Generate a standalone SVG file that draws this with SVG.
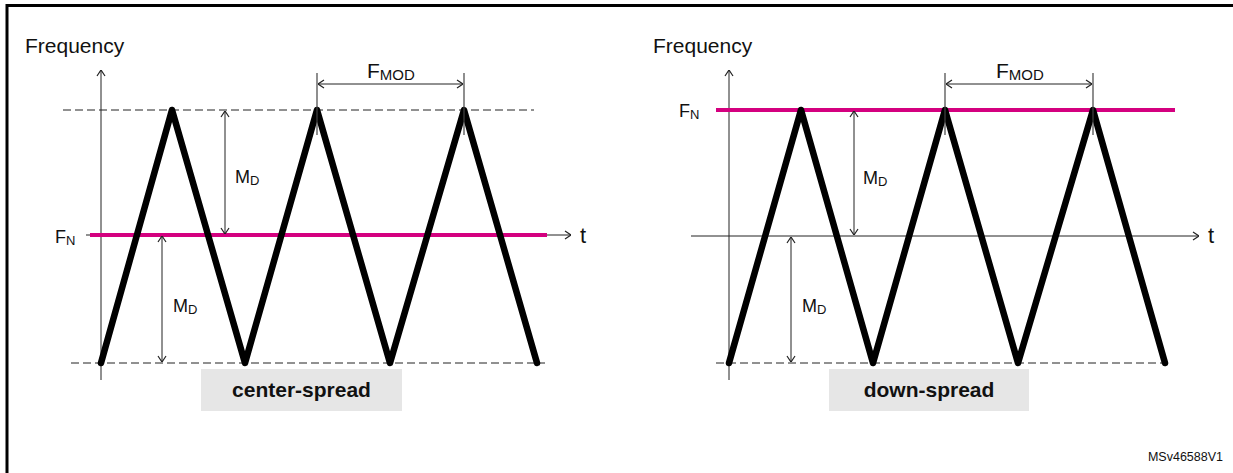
<svg xmlns="http://www.w3.org/2000/svg" width="1233" height="473" viewBox="0 0 1233 473">
<defs>
<style>
.lbl{font-family:"Liberation Sans",Arial,sans-serif;fill:#111}
.ax{stroke:#222;stroke-width:1;fill:none}
.dash{stroke:#222;stroke-width:1;stroke-dasharray:8 4;fill:none}
.tick{stroke:#444;stroke-width:1.2;fill:none}
.tri{stroke:#000;stroke-width:6.5;fill:none;stroke-linejoin:round;stroke-linecap:round}
.fn{stroke:#d4007f;stroke-width:4;fill:none}
.box{fill:#e6e6e6}
.bt{font-family:"Liberation Sans",Arial,sans-serif;font-weight:bold;font-size:21px;fill:#111;text-anchor:middle}
</style>
<marker id="ah" viewBox="0 0 10 10" refX="10" refY="5" markerWidth="10" markerHeight="10" markerUnits="userSpaceOnUse" orient="auto-start-reverse">
<path d="M4,1 L10,5 L4,9" fill="none" stroke="#222" stroke-width="1.2"/>
</marker>
</defs>
<rect width="1233" height="473" fill="#fff"/>
<g id="frame">
<path d="M7,473 V5.5 H1233" fill="none" stroke="#000" stroke-width="3"/>
</g>

<g id="center-spread">
<g id="left-axes">
<line class="ax" x1="101" y1="380" x2="101" y2="70" marker-end="url(#ah)"/>
<line class="ax" x1="86" y1="235" x2="571" y2="235" marker-end="url(#ah)"/>
<line class="dash" x1="63" y1="110" x2="534" y2="110"/>
<line class="dash" x1="71" y1="363" x2="545" y2="363"/>
</g>
<line id="left-fn" class="fn" x1="90" y1="235" x2="547" y2="235"/>
<polyline id="left-wave" class="tri" points="101,363 172,110 245,363 317,110 390,363 464,110 537,363"/>
<g id="left-dims">
<line class="tick" x1="317" y1="73" x2="317" y2="135"/>
<line class="tick" x1="464" y1="73" x2="464" y2="135"/>
<line class="ax" x1="318" y1="84" x2="463" y2="84" marker-start="url(#ah)" marker-end="url(#ah)"/>
<line class="ax" x1="225" y1="111" x2="225" y2="234" marker-start="url(#ah)" marker-end="url(#ah)"/>
<line class="ax" x1="162" y1="236" x2="162" y2="362" marker-start="url(#ah)" marker-end="url(#ah)"/>
</g>
<g id="left-labels">
<text class="lbl" x="25" y="53" font-size="21">Frequency</text>
<text class="lbl" x="55" y="243" font-size="18">F<tspan font-size="13" dy="2">N</tspan></text>
<text class="lbl" x="580" y="243" font-size="22">t</text>
<text class="lbl" x="235" y="183" font-size="18">M<tspan font-size="13" dy="2">D</tspan></text>
<text class="lbl" x="173" y="312" font-size="18">M<tspan font-size="13" dy="2">D</tspan></text>
<text class="lbl" x="367" y="78" font-size="21">F<tspan font-size="15" dy="2">MOD</tspan></text>
</g>
<g id="left-caption">
<rect class="box" x="201" y="369" width="201" height="42"/>
<text class="bt" x="301.5" y="397">center-spread</text>
</g>
</g>

<g id="down-spread">
<g id="right-axes">
<line class="ax" x1="729" y1="380" x2="729" y2="70" marker-end="url(#ah)"/>
<line class="ax" x1="691" y1="236" x2="1199" y2="236" marker-end="url(#ah)"/>
<line class="dash" x1="716" y1="363" x2="1165" y2="363"/>
</g>
<line id="right-fn" class="fn" x1="716" y1="110" x2="1175" y2="110"/>
<polyline id="right-wave" class="tri" points="729,363 801,110 873,363 945,110 1018,363 1093,110 1165,363"/>
<g id="right-dims">
<line class="tick" x1="945" y1="73" x2="945" y2="135"/>
<line class="tick" x1="1093" y1="73" x2="1093" y2="135"/>
<line class="ax" x1="946" y1="84" x2="1092" y2="84" marker-start="url(#ah)" marker-end="url(#ah)"/>
<line class="ax" x1="854" y1="111" x2="854" y2="235" marker-start="url(#ah)" marker-end="url(#ah)"/>
<line class="ax" x1="791" y1="237" x2="791" y2="362" marker-start="url(#ah)" marker-end="url(#ah)"/>
</g>
<g id="right-labels">
<text class="lbl" x="653" y="53" font-size="21">Frequency</text>
<text class="lbl" x="679" y="117" font-size="18">F<tspan font-size="13" dy="2">N</tspan></text>
<text class="lbl" x="1208" y="243" font-size="22">t</text>
<text class="lbl" x="863" y="184" font-size="18">M<tspan font-size="13" dy="2">D</tspan></text>
<text class="lbl" x="802" y="312" font-size="18">M<tspan font-size="13" dy="2">D</tspan></text>
<text class="lbl" x="996" y="78" font-size="21">F<tspan font-size="15" dy="2">MOD</tspan></text>
</g>
<g id="right-caption">
<rect class="box" x="829" y="369" width="200" height="42"/>
<text class="bt" x="929" y="397">down-spread</text>
</g>
</g>
<text id="ref-id" class="lbl" x="1223" y="461" font-size="12.5" text-anchor="end">MSv46588V1</text>
</svg>
